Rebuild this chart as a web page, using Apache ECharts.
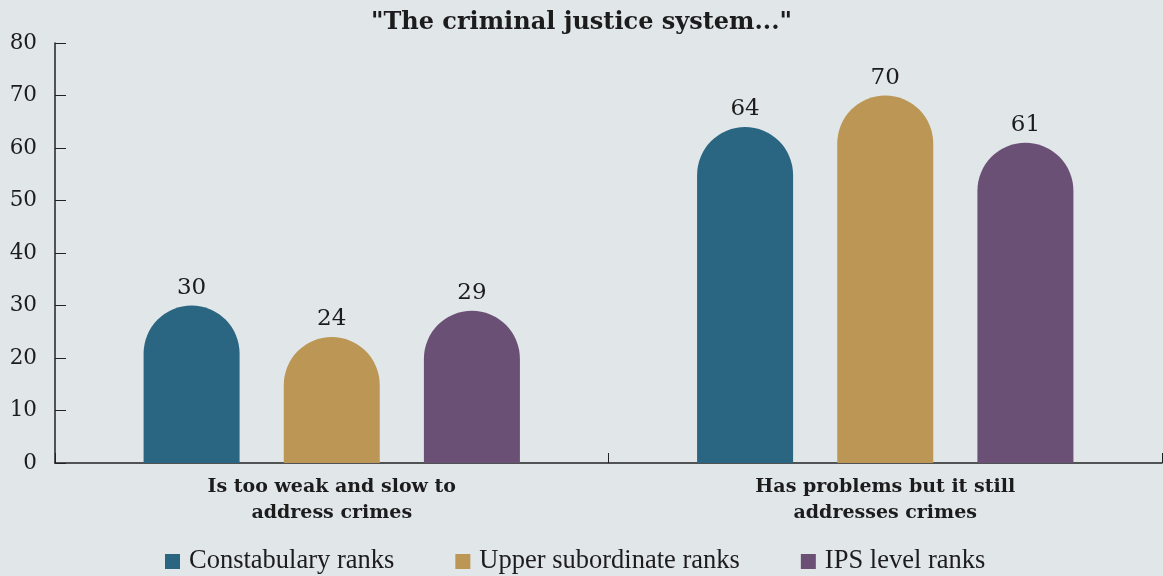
<!DOCTYPE html>
<html>
<head>
<meta charset="utf-8">
<script src="https://cdn.jsdelivr.net/npm/echarts@6/dist/echarts.min.js"></script>
<style>
  html, body { margin: 0; padding: 0; background: #e1e6e9; }
  #chart { width: 1163px; height: 576px; }
</style>
</head>
<body>
<div id="chart"></div>
<script>
// Survey responses: how police ranks view the criminal justice system (%)
const categories = ['Is too weak and slow to\naddress crimes', 'Has problems but it still\naddresses crimes'];
const constabulary = [30, 64];
const upperSubordinate = [24, 70];
const ipsLevel = [29, 61];
const yTicks = { min: 0, max: 80, interval: 10 };

const wideSerif = '"DejaVu Serif", "Liberation Serif", serif';
const narrowSerif = '"Liberation Serif", "DejaVu Serif", serif';
const textColor = '#1c1c1c';
const axisColor = '#222';
const barW = 96;

function barSeries(name, data, color) {
  return {
    name: name,
    type: 'bar',
    data: data,
    barWidth: barW,
    barGap: '46%',
    itemStyle: { color: color, borderRadius: [barW / 2, barW / 2, 0, 0] },
    label: {
      show: true,
      position: 'top',
      distance: 6,
      fontFamily: wideSerif,
      fontSize: 23,
      color: textColor
    }
  };
}

const chart = echarts.init(document.getElementById('chart'), null, { renderer: 'canvas' });
chart.setOption({
  backgroundColor: '#e1e6e9',
  animation: false,
  title: {
    text: '"The criminal justice system..."',
    left: 'center',
    top: 6,
    textStyle: { fontFamily: wideSerif, fontWeight: 'bold', fontSize: 24, color: textColor }
  },
  legend: {
    bottom: -4,
    left: 160,
    itemWidth: 15,
    itemHeight: 15,
    itemGap: 61,
    icon: 'rect',
    textStyle: { fontFamily: narrowSerif, fontSize: 26.5, color: textColor, padding: [0, 0, 0, 4] }
  },
  grid: { left: 55, right: 1, top: 43, bottom: 113, containLabel: false },
  xAxis: {
    type: 'category',
    data: categories,
    axisLine: { lineStyle: { color: axisColor, width: 1.5 } },
    axisTick: { show: true, inside: true, length: 10, lineStyle: { color: axisColor } },
    axisLabel: {
      margin: 11,
      fontFamily: wideSerif,
      fontWeight: 'bold',
      fontSize: 19,
      lineHeight: 26,
      color: textColor
    }
  },
  yAxis: {
    type: 'value',
    min: yTicks.min,
    max: yTicks.max,
    interval: yTicks.interval,
    splitLine: { show: false },
    axisLine: { show: true, lineStyle: { color: axisColor, width: 1.5 } },
    axisTick: { show: true, inside: true, length: 11, lineStyle: { color: axisColor } },
    axisLabel: { margin: 18, fontFamily: wideSerif, fontSize: 21.5, color: textColor }
  },
  series: [
    barSeries('Constabulary ranks', constabulary, '#2a6682'),
    barSeries('Upper subordinate ranks', upperSubordinate, '#bb9654'),
    barSeries('IPS level ranks', ipsLevel, '#6b5075')
  ]
});
</script>
</body>
</html>
